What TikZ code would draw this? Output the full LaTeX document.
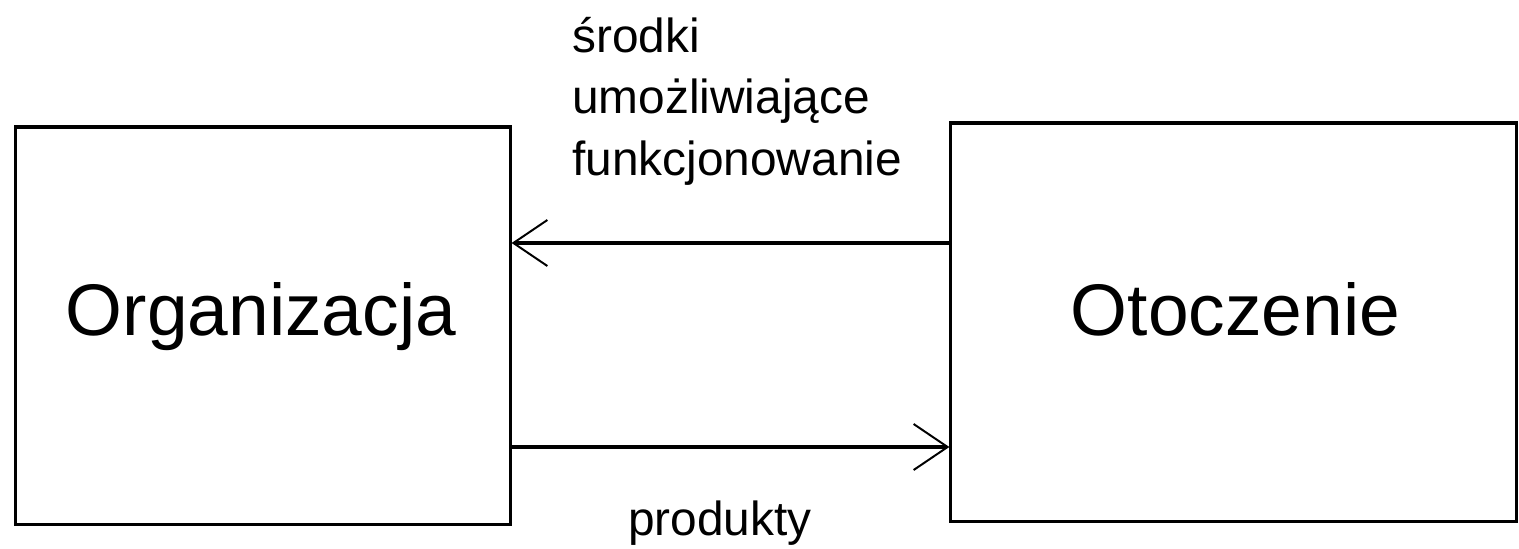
\documentclass[tikz,border=0pt]{standalone}
\usepackage{fontspec}
\setmainfont{Liberation Sans}
\usetikzlibrary{arrows.meta,positioning}

\begin{document}
\begin{tikzpicture}[x=0.025cm,y=-0.025cm,
    box/.style={draw,line width=2.2pt,inner sep=0pt},
    flow/.style={line width=2.2pt,-{Straight Barb[length=0.85cm,width=1.15cm,line width=1.4pt]}},
    bigtxt/.style={font=\fontsize{52}{60}\selectfont,inner sep=0pt},
    smalltxt/.style={font=\fontsize{34}{43.7}\selectfont,inner sep=0pt}]
  \useasboundingbox (0,0) rectangle (1519,548);
  % boxes
  \node[box,minimum width=12.35cm,minimum height=9.925cm] (org) at (263,325.5) {};
  \node[box,minimum width=14.125cm,minimum height=9.95cm] (oto) at (1233.5,322) {};
  \node[bigtxt,anchor=base] (orgtxt) at (261,335) {Organizacja};
  \node[bigtxt,anchor=base] (ototxt) at (1235.5,335) {Otoczenie};
  % flows
  \coordinate (tarr) at (0,243);
  \coordinate (barr) at (0,447);
  \draw[flow] (oto.west |- tarr) -- (org.east |- tarr);
  \draw[flow] (org.east |- barr) -- (oto.west |- barr);
  \node[smalltxt,anchor=base west,align=left] (srodki) at (572,175) {środki\\umożliwiające\\funkcjonowanie};
  \node[smalltxt,anchor=base west] (prod) at (628,535) {produkty};
\end{tikzpicture}
\end{document}
